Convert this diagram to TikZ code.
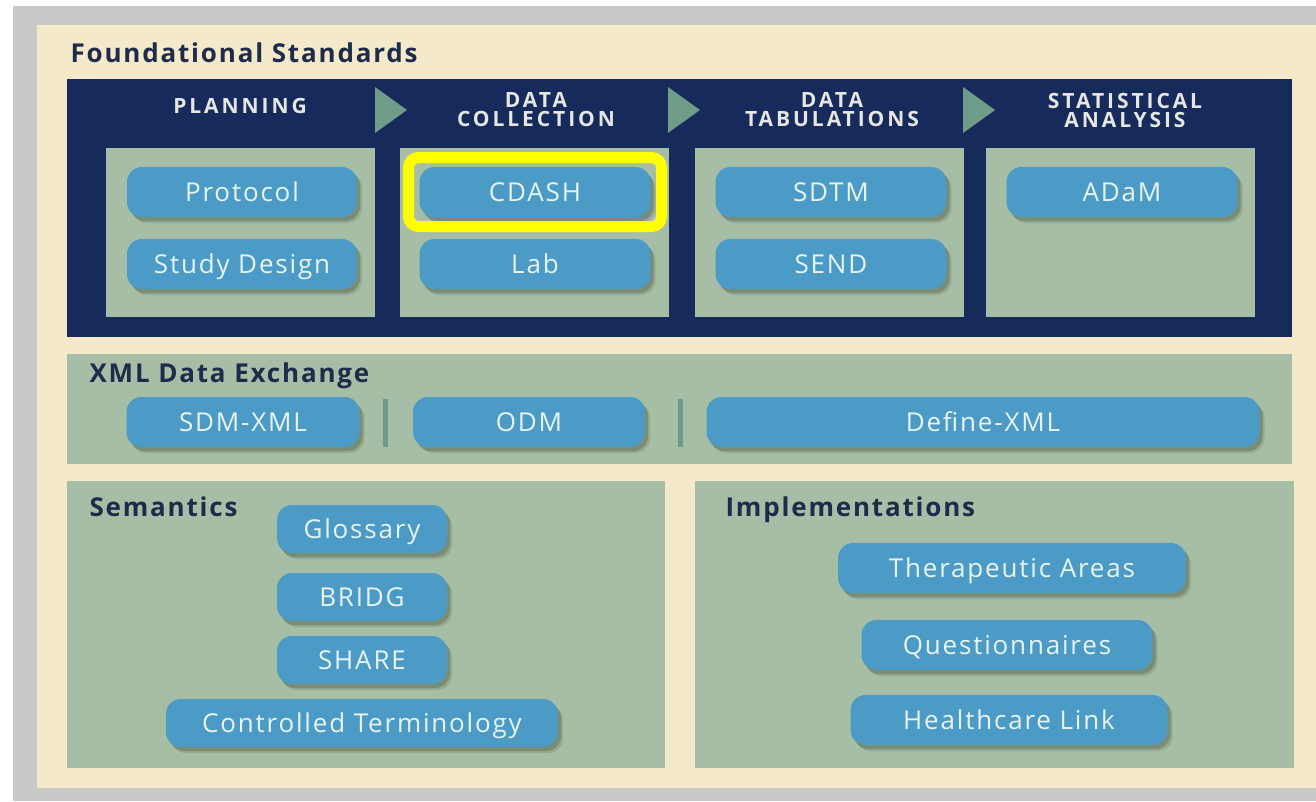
\documentclass[tikz,border=0pt]{standalone}
\usepackage{fontspec}
\setmainfont{Open Sans}
\usetikzlibrary{shadows}

\definecolor{cream}{HTML}{F4EACB}
\definecolor{framegray}{HTML}{C9C9C9}
\definecolor{navy}{HTML}{172A5C}
\definecolor{sage}{HTML}{A7BEA6}
\definecolor{pillblue}{HTML}{4B9BC6}
\definecolor{pilltext}{HTML}{E8F4F2}
\definecolor{headtext}{HTML}{E6E7E2}
\definecolor{arrowgreen}{HTML}{6F9C89}
\definecolor{titletext}{HTML}{1E2B4A}
\definecolor{sepgreen}{HTML}{6D9A8A}
\definecolor{hilite}{HTML}{FFFF00}
\definecolor{shade}{HTML}{3E4A30}

\begin{document}
\begin{tikzpicture}[x=1pt,y=-1pt,
  panel/.style={fill=sage, draw=none},
  pill/.style={fill=pillblue, rounded corners=15pt, text=pilltext,
    font=\fontsize{26}{28}\selectfont\addfontfeature{LetterSpace=7},
    inner sep=0pt, minimum height=50pt, text height=18.5pt, text depth=0pt,
    drop shadow={shadow xshift=5pt, shadow yshift=-6pt, opacity=0.18, fill=shade},
    drop shadow={shadow xshift=3pt, shadow yshift=-4pt, opacity=0.30, fill=shade}},
  colhead/.style={text=headtext, align=center,
    font=\bfseries\fontsize{21}{20}\selectfont\addfontfeature{LetterSpace=14}},
  sectitle/.style={text=titletext, anchor=base west,
    font=\bfseries\fontsize{26}{28}\selectfont\addfontfeature{LetterSpace=7}},
  stepmark/.style={fill=arrowgreen, draw=none},
  divider/.style={draw=sepgreen, line width=5pt}
]
\useasboundingbox (0,0) rectangle (1316,801);
\fill[white] (0,0) rectangle (1316,801);

% outer frame and cream ground
\fill[framegray] (13,6) rectangle (1316,801);
\fill[cream] (37,25) rectangle (1316,788);

% ---------- Foundational standards ----------
\node[sectitle] (fstitle) at (67,62) {Foundational Standards};
\fill[navy] (67,79) rectangle (1292,337);

\node[colhead] (hplan) at (240,106) {PLANNING};
\node[colhead] (hcoll) at (536,110) {DATA\\[-1pt]COLLECTION};
\node[colhead] (htab)  at (832,110) {DATA\\[-1pt]TABULATIONS};
\node[colhead] (hstat) at (1125,110) {STATISTICAL\\[-1pt]ANALYSIS};

\fill[stepmark] (375,87) -- (407,110) -- (375,133) -- cycle;
\fill[stepmark] (668,87) -- (700,110) -- (668,133) -- cycle;
\fill[stepmark] (963,87) -- (995,110) -- (963,133) -- cycle;

\fill[panel] (106,148) rectangle (375,317);
\fill[panel] (400,148) rectangle (669,317);
\fill[panel] (695,148) rectangle (964,317);
\fill[panel] (986,148) rectangle (1255,317);

\node[pill, minimum width=230pt] (protocol) at (242,192) {Protocol};
\node[pill, minimum width=230pt] (design)   at (242,264) {Study Design};
\node[pill, minimum width=231pt] (cdash)    at (535,192) {CDASH};
\node[pill, minimum width=231pt] (lab)      at (535,264) {Lab};
\node[pill, minimum width=231pt] (sdtm)     at (831,192) {SDTM};
\node[pill, minimum width=231pt] (send)     at (831,264) {SEND};
\node[pill, minimum width=231pt] (adam)     at (1122,192) {ADaM};

\draw[hilite, line width=11pt, rounded corners=10pt]
  (408.5,157.5) rectangle (661.5,226.5);

% ---------- XML data exchange ----------
\fill[panel] (67,354) rectangle (1292,464);
\node[sectitle] (xmltitle) at (86,382) {XML Data Exchange};
\node[pill, minimum width=233pt] (sdmxml) at (243,422) {SDM-XML};
\draw[divider] (385,399) -- (385,447);
\node[pill, minimum width=232pt] (odm) at (529,422) {ODM};
\draw[divider] (680,399) -- (680,447);
\node[pill, minimum width=553pt] (definexml) at (983,422) {Define-XML};

% ---------- Semantics ----------
\fill[panel] (67,481) rectangle (665,768);
\node[sectitle] (semtitle) at (86,516) {Semantics};
\node[pill, minimum width=170pt, minimum height=48pt] (glossary) at (362,529) {Glossary};
\node[pill, minimum width=170pt, minimum height=48pt] (bridg)    at (362,597) {BRIDG};
\node[pill, minimum width=170pt, minimum height=48pt] (share)    at (362,660) {SHARE};
\node[pill, minimum width=392pt, minimum height=48pt] (ctterm)   at (362,723) {Controlled Terminology};

% ---------- Implementations ----------
\fill[panel] (695,481) rectangle (1294,768);
\node[sectitle] (impltitle) at (722,516) {Implementations};
\node[pill, minimum width=348pt] (thera)  at (1012,568) {Therapeutic Areas};
\node[pill, minimum width=291pt] (quest)  at (1007,645) {Questionnaires};
\node[pill, minimum width=317pt] (health) at (1009,720) {Healthcare Link};
\end{tikzpicture}
\end{document}
